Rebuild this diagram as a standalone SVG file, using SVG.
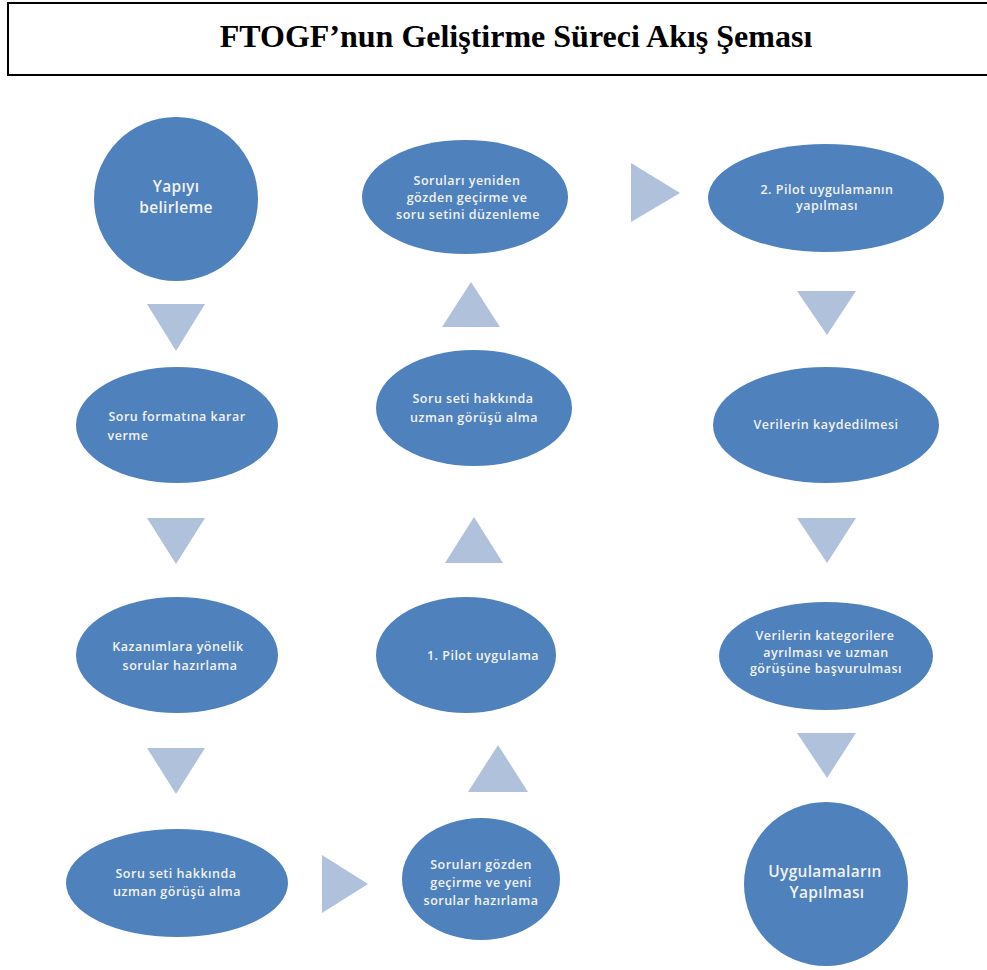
<svg xmlns="http://www.w3.org/2000/svg" width="987" height="970" viewBox="0 0 987 970">
  <style>
    .title { font-family: "Liberation Serif", "Times New Roman", serif; font-weight: bold; font-size: 32px; fill: #000; }
    .node { fill: #4f81bd; }
    .lbl { font-family: "Open Sans", "Liberation Sans", sans-serif; font-weight: 600; font-size: 12.5px; letter-spacing: 0.5px; fill: #f2f2f2; text-anchor: middle; }
    .big { font-size: 15.5px; letter-spacing: 0.3px; }
    .arrow { fill: #b0c1dc; }
  </style>
  <rect width="987" height="970" fill="#ffffff"/>

  <!-- title box -->
  <g id="title">
    <rect x="8" y="3" width="990" height="72" fill="none" stroke="#000" stroke-width="2"/>
    <text class="title" x="516" y="47" text-anchor="middle">FTOGF’nun Geliştirme Süreci Akış Şeması</text>
  </g>

  <!-- left column -->
  <g id="n1">
    <circle class="node" cx="176" cy="199" r="82"/>
    <text class="lbl big" x="176" y="192">Yapıyı</text>
    <text class="lbl big" x="176" y="213">belirleme</text>
  </g>
  <g id="n2">
    <ellipse class="node" cx="177" cy="425" rx="101" ry="58"/>
    <text class="lbl" x="177" y="421">Soru formatına karar</text>
    <text class="lbl" x="128" y="440" text-anchor="start">verme</text>
  </g>
  <g id="n3">
    <ellipse class="node" cx="177" cy="655" rx="101" ry="58"/>
    <text class="lbl" x="178" y="651">Kazanımlara yönelik</text>
    <text class="lbl" x="180" y="670">sorular hazırlama</text>
  </g>
  <g id="n4">
    <ellipse class="node" cx="177" cy="883" rx="111" ry="54"/>
    <text class="lbl" x="176" y="878">Soru seti hakkında</text>
    <text class="lbl" x="177" y="896">uzman görüşü alma</text>
  </g>

  <!-- middle column -->
  <g id="n5">
    <ellipse class="node" cx="481" cy="879" rx="79" ry="61"/>
    <text class="lbl" x="481" y="869">Soruları gözden</text>
    <text class="lbl" x="481" y="887">geçirme ve yeni</text>
    <text class="lbl" x="481" y="905">sorular hazırlama</text>
  </g>
  <g id="n6">
    <ellipse class="node" cx="466" cy="655" rx="90" ry="58"/>
    <text class="lbl" x="483" y="660">1. Pilot uygulama</text>
  </g>
  <g id="n7">
    <ellipse class="node" cx="474" cy="408" rx="98" ry="58"/>
    <text class="lbl" x="473" y="403">Soru seti hakkında</text>
    <text class="lbl" x="474" y="422">uzman görüşü  alma</text>
  </g>
  <g id="n8">
    <ellipse class="node" cx="465" cy="197" rx="103" ry="57"/>
    <text class="lbl" x="467" y="185">Soruları yeniden</text>
    <text class="lbl" x="467" y="202">gözden geçirme ve</text>
    <text class="lbl" x="468" y="219">soru setini düzenleme</text>
  </g>

  <!-- right column -->
  <g id="n9">
    <ellipse class="node" cx="826" cy="198" rx="118" ry="54"/>
    <text class="lbl" x="827" y="194">2. Pilot uygulamanın</text>
    <text class="lbl" x="827" y="210">yapılması</text>
  </g>
  <g id="n10">
    <ellipse class="node" cx="826" cy="425" rx="113" ry="58"/>
    <text class="lbl" x="826" y="429">Verilerin kaydedilmesi</text>
  </g>
  <g id="n11">
    <ellipse class="node" cx="826" cy="656" rx="107" ry="54"/>
    <text class="lbl" x="825" y="640">Verilerin kategorilere</text>
    <text class="lbl" x="826" y="657">ayrılması ve uzman</text>
    <text class="lbl" x="826" y="673">görüşüne başvurulması</text>
  </g>
  <g id="n12">
    <circle class="node" cx="826" cy="884" r="82"/>
    <text class="lbl big" x="825" y="877">Uygulamaların</text>
    <text class="lbl big" x="827" y="898">Yapılması</text>
  </g>

  <!-- flow arrows -->
  <g id="connectors">
    <polygon class="arrow" points="147,304 205,304 176,351"/>
    <polygon class="arrow" points="147,518 205,518 176,564"/>
    <polygon class="arrow" points="147,748 205,748 176,794"/>
    <polygon class="arrow" points="322,855 322,913 368,884"/>
    <polygon class="arrow" points="468,792 528,792 498,745"/>
    <polygon class="arrow" points="445,563 503,563 474,517"/>
    <polygon class="arrow" points="442,327 500,327 471,282"/>
    <polygon class="arrow" points="631,163 631,222 680,193"/>
    <polygon class="arrow" points="797,291 856,291 827,335"/>
    <polygon class="arrow" points="797,518 856,518 827,563"/>
    <polygon class="arrow" points="797,733 856,733 827,778"/>
  </g>
</svg>
